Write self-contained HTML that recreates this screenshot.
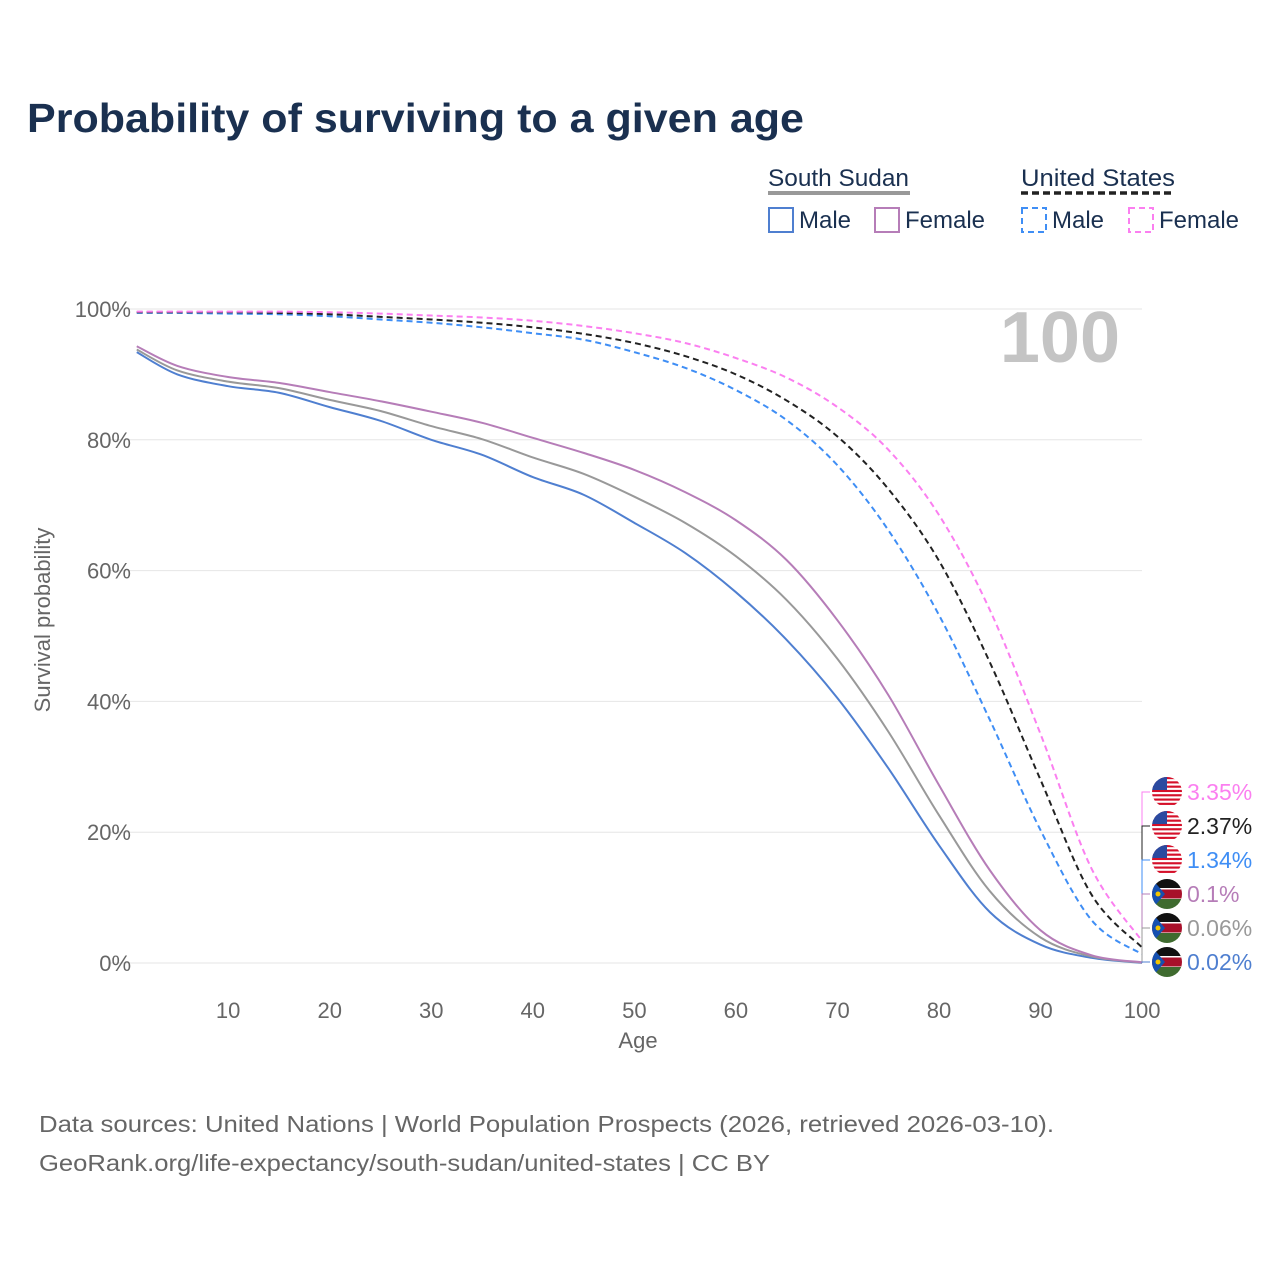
<!DOCTYPE html>
<html><head><meta charset="utf-8"><style>
body{margin:0;background:#fff;font-family:"Liberation Sans",sans-serif}
svg text{font-family:"Liberation Sans",sans-serif}
</style></head><body>
<svg width="1280" height="1280" viewBox="0 0 1280 1280">
<defs><clipPath id="fc"><circle cx="0" cy="0" r="15"/></clipPath></defs>
<text x="27" y="132" font-size="41" font-weight="bold" fill="#1a3050" textLength="777" lengthAdjust="spacingAndGlyphs">Probability of surviving to a given age</text>
<g font-size="24" fill="#1a3050">
 <text x="768" y="186" fill="#1a3050" textLength="141" lengthAdjust="spacingAndGlyphs">South Sudan</text>
 <rect x="768" y="191" width="142" height="4" fill="#999"/>
 <rect x="769" y="208" width="24" height="24" fill="none" stroke="#4f7fd0" stroke-width="2"/>
 <text x="799" y="228" fill="#1a3050">Male</text>
 <rect x="875" y="208" width="24" height="24" fill="none" stroke="#b67db8" stroke-width="2"/>
 <text x="905" y="228" fill="#1a3050">Female</text>
 <text x="1021" y="186" fill="#1a3050" textLength="154" lengthAdjust="spacingAndGlyphs">United States</text>
 <line x1="1021" y1="193" x2="1175" y2="193" stroke="#222" stroke-width="3.5" stroke-dasharray="7,4"/>
 <rect x="1022" y="208" width="24" height="24" fill="none" stroke="#3f8ef5" stroke-width="2" stroke-dasharray="6,4"/>
 <text x="1052" y="228" fill="#1a3050">Male</text>
 <rect x="1129" y="208" width="24" height="24" fill="none" stroke="#fb7ff0" stroke-width="2" stroke-dasharray="6,4"/>
 <text x="1159" y="228" fill="#1a3050">Female</text>
</g>
<g id="grid"></g>
<text x="1120" y="362" font-size="72" font-weight="bold" fill="#c4c4c4" text-anchor="end">100</text>
<g id="series"></g>
<g id="labels"></g>
<text x="638" y="1048" font-size="22" fill="#666" text-anchor="middle">Age</text>
<text transform="translate(50,620) rotate(-90)" font-size="22" fill="#666" text-anchor="middle">Survival probability</text>
<text x="39" y="1132" font-size="23" fill="#666" textLength="1015" lengthAdjust="spacingAndGlyphs">Data sources: United Nations | World Population Prospects (2026, retrieved 2026-03-10).</text>
<text x="39" y="1171" font-size="23" fill="#666" textLength="731" lengthAdjust="spacingAndGlyphs">GeoRank.org/life-expectancy/south-sudan/united-states | CC BY</text>
</svg>
<script>
const ages=[1,5,10,15,20,25,30,35,40,45,50,55,60,65,70,75,80,85,90,95,100];
const ssMale=[93.4,90,88.2,87.2,85,82.9,80,77.7,74.3,71.6,67.3,62.7,56.7,49.4,40.5,29.8,18,7.8,2.8,0.8,0.02];
const ssTotal=[93.8,90.6,88.9,87.9,86.1,84.4,82.1,80.1,77.3,74.8,71.3,67.3,62.2,55.5,46.5,35.4,22.6,11,3.9,1,0.06];
const ssFemale=[94.3,91.3,89.6,88.7,87.3,85.9,84.3,82.6,80.3,78,75.4,72,67.7,61.6,52.4,41,27.2,14.2,5,1.2,0.1];
const usMale=[99.4,99.4,99.3,99.2,98.9,98.4,97.9,97.2,96.3,95.3,93.4,91,87.6,83,76.1,66.2,53.2,37.2,20.3,6.6,1.34];
const usTotal=[99.5,99.5,99.5,99.4,99.2,98.8,98.4,97.9,97.2,96.2,94.8,92.8,90,86,80.5,72.5,61.5,46,28,10.5,2.37];
const usFemale=[99.6,99.6,99.6,99.6,99.5,99.3,99,98.7,98.2,97.4,96.3,94.8,92.5,89.5,85,78.5,68.5,54,35,14.5,3.35];
const xTicks=[10,20,30,40,50,60,70,80,90,100];
const yTicks=[0,20,40,60,80,100];
const NS="http://www.w3.org/2000/svg";
const X=a=>126.6+a*10.155;
const Y=v=>963-v*6.54;
function mk(t,at,p){const e=document.createElementNS(NS,t);for(const k in at)e.setAttribute(k,at[k]);p.appendChild(e);return e;}
const grid=document.getElementById('grid');
yTicks.forEach(v=>{
 const l=mk('line',{x1:110,x2:1142,y1:Y(v),y2:Y(v),stroke:'#e6e6e6','stroke-width':1},grid);
 
 
 const t=mk('text',{x:131,y:Y(v)+8,'font-size':22,fill:'#666','text-anchor':'end'},grid);
 t.textContent=v+'%';
 
 
});
xTicks.forEach(a=>{
 const t=mk('text',{x:X(a),y:1018,'font-size':22,fill:'#666','text-anchor':'middle'},grid);
 t.textContent=a;
 
 
});
function path(vals){
 const p=ages.map((a,i)=>[X(a),Y(vals[i])]);
 let d='M'+p[0][0]+','+p[0][1];
 for(let i=0;i<p.length-1;i++){
  const p0=p[Math.max(i-1,0)],p1=p[i],p2=p[i+1],p3=p[Math.min(i+2,p.length-1)];
  const c1=[p1[0]+(p2[0]-p0[0])/6,p1[1]+(p2[1]-p0[1])/6];
  const c2=[p2[0]-(p3[0]-p1[0])/6,p2[1]-(p3[1]-p1[1])/6];
  d+=`C${c1[0]},${c1[1]} ${c2[0]},${c2[1]} ${p2[0]},${p2[1]}`;
 }
 return d;
}
const ser=document.getElementById('series');
const defs=[
 [ssMale,'#4f7fd0',null,'line-ss-male'],
 [ssTotal,'#999',null,'line-ss-total'],
 [ssFemale,'#b67db8',null,'line-ss-female'],
 [usMale,'#3f8ef5','6,4','line-us-male'],
 [usTotal,'#222','6,4','line-us-total'],
 [usFemale,'#fb7ff0','6,4','line-us-female']];
defs.forEach(([v,c,da,n])=>{
 const e=mk('path',{d:path(v),fill:'none',stroke:c,'stroke-width':2},ser);
 if(da)e.setAttribute('stroke-dasharray',da);
 
 
});
const lab=document.getElementById('labels');
const ends=[[usFemale,'#fb7ff0','us',792],[usTotal,'#222','us',826],[usMale,'#3f8ef5','us',860],[ssFemale,'#b67db8','ss',894],[ssTotal,'#999','ss',928],[ssMale,'#4f7fd0','ss',962]];
function flag(kind,cx,cy){
 const g=mk('g',{transform:`translate(${cx},${cy})`},lab);
 const c=mk('g',{'clip-path':'url(#fc)'},g);
 if(kind==='us'){
  mk('rect',{x:-15,y:-15,width:30,height:30,fill:'#fff'},c);
  for(let i=0;i<7;i++)mk('rect',{x:-15,y:-15+i*4.3,width:30,height:2.15,fill:'#d5102a'},c);
  mk('rect',{x:-15,y:-15,width:15,height:13,fill:'#2b4aa0'},c);
 }else{
  mk('rect',{x:-15,y:-15,width:30,height:10,fill:'#111'},c);
  mk('rect',{x:-15,y:-5,width:30,height:10,fill:'#a8102a'},c);
  mk('rect',{x:-15,y:-6,width:30,height:1.5,fill:'#fff'},c);
  mk('rect',{x:-15,y:4.5,width:30,height:1.5,fill:'#fff'},c);
  mk('rect',{x:-15,y:5,width:30,height:10,fill:'#3f6b2f'},c);
  mk('polygon',{points:'-15,-15 -2,0 -15,15',fill:'#1550b0'},c);
  mk('circle',{cx:-9,cy:0,r:2.5,fill:'#f3c400'},c);
 }
 return g;
}
ends.forEach(([v,c,k,ly])=>{
 const yv=Y(v[v.length-1]);
 const l=mk('polyline',{points:`1142,${yv} 1142,${ly} 1150,${ly}`,fill:'none',stroke:c,'stroke-width':1},lab);
 
 
 const f=flag(k,1167,ly);
 
 
 const t=mk('text',{x:1187,y:ly+8,'font-size':23,fill:c},lab);
 t.textContent=v[v.length-1]+'%';
 
 
});
</script>
</body></html>
